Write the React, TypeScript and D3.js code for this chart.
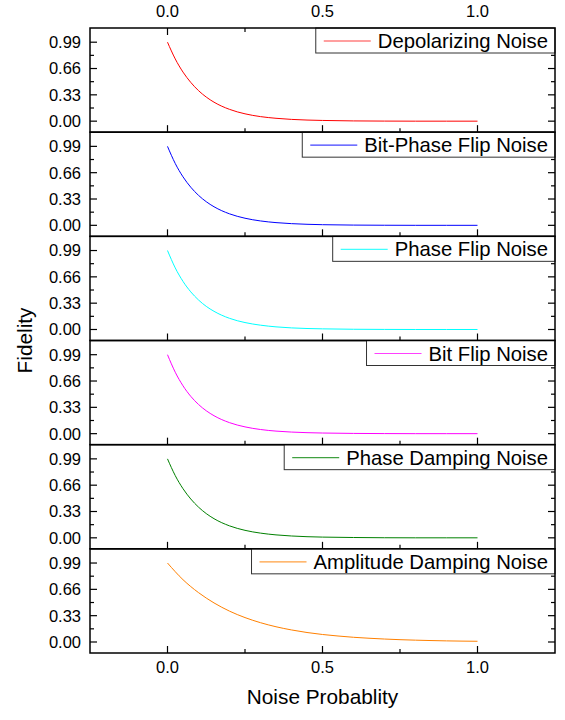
import React, { useEffect, useRef } from 'react';
import * as d3 from 'd3';

// noise probability grid (x values)
const probs = [0, 0.025, 0.05, 0.075, 0.1, 0.125, 0.15, 0.2, 0.25, 0.3, 0.35, 0.4, 0.5, 0.6, 0.7, 0.8, 0.9, 1.0];

const depolarizing = [0.99, 0.78, 0.615, 0.486, 0.383, 0.302, 0.238, 0.148, 0.092, 0.057, 0.036, 0.022, 0.009, 0.003, 0.001, 0.0, 0.0, 0.0];
const bitPhaseFlip = [0.99, 0.775, 0.608, 0.478, 0.376, 0.296, 0.233, 0.144, 0.089, 0.055, 0.034, 0.021, 0.008, 0.003, 0.001, 0.0, 0.0, 0.0];
const phaseFlip = [0.99, 0.772, 0.603, 0.472, 0.37, 0.29, 0.228, 0.14, 0.087, 0.054, 0.033, 0.02, 0.008, 0.003, 0.001, 0.0, 0.0, 0.0];
const bitFlip = [0.99, 0.77, 0.6, 0.468, 0.366, 0.287, 0.225, 0.138, 0.085, 0.052, 0.032, 0.02, 0.008, 0.003, 0.001, 0.0, 0.0, 0.0];
const phaseDamping = [0.99, 0.78, 0.616, 0.487, 0.385, 0.304, 0.24, 0.15, 0.094, 0.059, 0.037, 0.023, 0.009, 0.004, 0.001, 0.0, 0.0, 0.0];
// amplitude damping decays a lot slower
const ampProbs = [0, 0.05, 0.1, 0.15, 0.2, 0.25, 0.3, 0.35, 0.4, 0.45, 0.5, 0.55, 0.6, 0.65, 0.7, 0.75, 0.8, 0.85, 0.9, 0.95, 1.0];
const amplitudeDamping = [0.99, 0.781, 0.619, 0.49, 0.387, 0.306, 0.242, 0.191, 0.151, 0.119, 0.094, 0.075, 0.059, 0.047, 0.037, 0.029, 0.023, 0.018, 0.014, 0.011, 0.009];

const seriesNames = ['Depolarizing Noise', 'Bit-Phase Flip Noise', 'Phase Flip Noise', 'Bit Flip Noise', 'Phase Damping Noise', 'Amplitude Damping Noise'];
const seriesColors = ['#FF0000', '#0000FF', '#00FFFF', '#FF00FF', '#008000', '#FF8000'];
const seriesX = [probs, probs, probs, probs, probs, ampProbs];
const seriesY = [depolarizing, bitPhaseFlip, phaseFlip, bitFlip, phaseDamping, amplitudeDamping];

const xMajor = [0, 0.5, 1.0];
const xMinor = [0.25, 0.75];
const yMajor = [0, 0.33, 0.66, 0.99];
const yMinor = [0.165, 0.495, 0.825];

const FONT = '"Liberation Sans", Arial, sans-serif';

const App: React.FC = () => {
  const svgRef = useRef<SVGSVGElement>(null);

  useEffect(() => {
    if (!svgRef.current) return;
    const svg = d3.select(svgRef.current);
    svg.selectAll('*').remove();

    const left = 90;
    const right = 555;
    const top = 28;
    const bottom = 653;
    const panelH = (bottom - top) / seriesNames.length;
    const majorLen = 7;
    const minorLen = 4;

    const x = d3.scaleLinear().domain([-0.25, 1.25]).range([left, right]);

    seriesNames.forEach((name, i) => {
      const pTop = top + i * panelH;
      const pBot = pTop + panelH;
      const y = d3.scaleLinear().domain([-0.138, 1.168]).range([pBot, pTop]);
      const g = svg.append('g');

      // curve
      const pts: [number, number][] = seriesX[i].map((p, k) => [p, seriesY[i][k]]);
      const line = d3.line<[number, number]>()
        .x(d => x(d[0]))
        .y(d => y(d[1]))
        .curve(d3.curveMonotoneX);
      g.append('path')
        .datum(pts)
        .attr('fill', 'none')
        .attr('stroke', seriesColors[i])
        .attr('stroke-width', 1)
        .attr('d', line as any);

      // y ticks (left + right, inward)
      yMajor.forEach(v => {
        g.append('line').attr('x1', left).attr('x2', left + majorLen).attr('y1', y(v)).attr('y2', y(v)).attr('stroke', '#000').attr('stroke-width', 1.2);
        g.append('line').attr('x1', right).attr('x2', right - majorLen).attr('y1', y(v)).attr('y2', y(v)).attr('stroke', '#000').attr('stroke-width', 1.2);
        g.append('text')
          .attr('x', left - 9)
          .attr('y', y(v))
          .attr('dy', '0.36em')
          .attr('text-anchor', 'end')
          .attr('font-family', FONT)
          .attr('font-size', 16.5)
          .text(v.toFixed(2));
      });
      yMinor.forEach(v => {
        g.append('line').attr('x1', left).attr('x2', left + minorLen).attr('y1', y(v)).attr('y2', y(v)).attr('stroke', '#000').attr('stroke-width', 1.2);
        g.append('line').attr('x1', right).attr('x2', right - minorLen).attr('y1', y(v)).attr('y2', y(v)).attr('stroke', '#000').attr('stroke-width', 1.2);
      });

      // x ticks at panel bottom (inward), and top of first panel
      xMajor.forEach(v => {
        g.append('line').attr('x1', x(v)).attr('x2', x(v)).attr('y1', pBot).attr('y2', pBot - majorLen).attr('stroke', '#000').attr('stroke-width', 1.2);
        if (i === 0) g.append('line').attr('x1', x(v)).attr('x2', x(v)).attr('y1', pTop).attr('y2', pTop + majorLen).attr('stroke', '#000').attr('stroke-width', 1.2);
      });
      xMinor.forEach(v => {
        g.append('line').attr('x1', x(v)).attr('x2', x(v)).attr('y1', pBot).attr('y2', pBot - minorLen).attr('stroke', '#000').attr('stroke-width', 1.2);
        if (i === 0) g.append('line').attr('x1', x(v)).attr('x2', x(v)).attr('y1', pTop).attr('y2', pTop + minorLen).attr('stroke', '#000').attr('stroke-width', 1.2);
      });

      // legend, anchored top-right
      const lg = g.append('g');
      const box = lg.append('rect')
        .attr('fill', '#fff')
        .attr('stroke', '#333')
        .attr('stroke-width', 1);
      const txt = lg.append('text')
        .attr('font-family', FONT)
        .attr('font-size', 20.3)
        .attr('y', pTop + 20)
        .text(name);
      const tw = (txt.node() as SVGTextElement).getComputedTextLength();
      const boxLeft = right - tw - 69;
      txt.attr('x', boxLeft + 62);
      box.attr('x', boxLeft).attr('y', pTop).attr('width', right - boxLeft).attr('height', 25);
      lg.append('line')
        .attr('x1', boxLeft + 8).attr('x2', boxLeft + 55)
        .attr('y1', pTop + 13).attr('y2', pTop + 13)
        .attr('stroke', seriesColors[i])
        .attr('stroke-opacity', 0.75)
        .attr('stroke-width', 1.2);

      // frame
      g.append('rect')
        .attr('x', left).attr('y', pTop)
        .attr('width', right - left).attr('height', panelH)
        .attr('fill', 'none')
        .attr('stroke', '#000')
        .attr('stroke-width', 1.5);
    });

    // x tick labels: top and bottom
    xMajor.forEach(v => {
      svg.append('text').attr('x', x(v)).attr('y', 17).attr('text-anchor', 'middle')
        .attr('font-family', FONT).attr('font-size', 16.5).text(v.toFixed(1));
      svg.append('text').attr('x', x(v)).attr('y', 673).attr('text-anchor', 'middle')
        .attr('font-family', FONT).attr('font-size', 16.5).text(v.toFixed(1));
    });

    // axis titles
    svg.append('text')
      .attr('x', (left + right) / 2)
      .attr('y', 704)
      .attr('text-anchor', 'middle')
      .attr('font-family', FONT)
      .attr('font-size', 20.8)
      .text('Noise Probablity');
    svg.append('text')
      .attr('transform', `translate(32, ${(top + bottom) / 2}) rotate(-90)`)
      .attr('text-anchor', 'middle')
      .attr('font-family', FONT)
      .attr('font-size', 20.8)
      .text('Fidelity');
  }, []);

  return (
    <svg
      ref={svgRef}
      width={565}
      height={720}
      viewBox="0 0 565 720"
      style={{ position: 'absolute', left: 0, top: 0, background: '#fff' }}
    />
  );
};

export default App;
